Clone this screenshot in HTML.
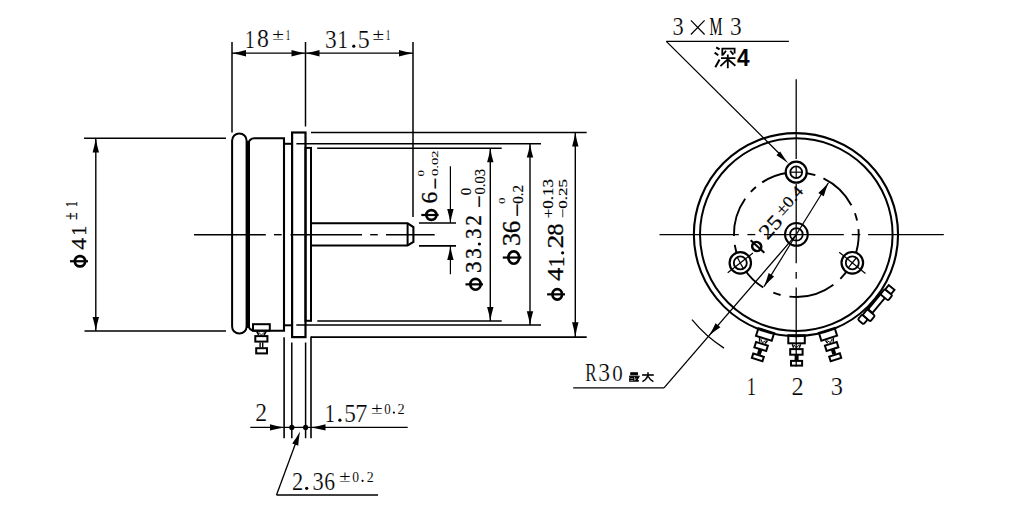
<!DOCTYPE html>
<html><head><meta charset="utf-8"><style>
html,body{margin:0;padding:0;background:#fff;overflow:hidden}
svg{display:block}
</style></head><body>
<svg width="1021" height="515" viewBox="0 0 1021 515">
<rect width="1021" height="515" fill="#fff"/>
<g stroke="#000" fill="none" stroke-linecap="butt">
<line x1="232" y1="42" x2="232" y2="132.5" stroke-width="1.5"/>
<line x1="305.5" y1="42" x2="305.5" y2="126.5" stroke-width="1.5"/>
<line x1="413" y1="42" x2="413" y2="217" stroke-width="1.5"/>
<line x1="232" y1="53.2" x2="413" y2="53.2" stroke-width="1.3"/>
<path d="M232 53.2 Q239.7 54.54 246 56.4 L246 53.2 L246 50 Q239.7 51.86 232 53.2Z" fill="#000" stroke="none"/>
<path d="M305.5 53.2 Q297.8 51.86 291.5 50 L291.5 53.2 L291.5 56.4 Q297.8 54.54 305.5 53.2Z" fill="#000" stroke="none"/>
<path d="M305.5 53.2 Q313.2 54.54 319.5 56.4 L319.5 53.2 L319.5 50 Q313.2 51.86 305.5 53.2Z" fill="#000" stroke="none"/>
<path d="M413 53.2 Q405.3 51.86 399 50 L399 53.2 L399 56.4 Q405.3 54.54 413 53.2Z" fill="#000" stroke="none"/>
<line x1="84" y1="138.3" x2="226" y2="138.3" stroke-width="1.5"/>
<line x1="84.5" y1="331" x2="226" y2="331" stroke-width="1.5"/>
<line x1="95.8" y1="138.3" x2="95.8" y2="331" stroke-width="1.4"/>
<path d="M95.8 138.3 Q94.46 146.11 92.6 152.5 L95.8 152.5 L99 152.5 Q97.14 146.11 95.8 138.3Z" fill="#000" stroke="none"/>
<path d="M95.8 331 Q97.14 323.3 99 317 L95.8 317 L92.6 317 Q94.46 323.3 95.8 331Z" fill="#000" stroke="none"/>
<rect x="232.1" y="133.4" width="14.5" height="200.2" rx="7.2" stroke-width="2.0" fill="none"/>
<path d="M284 138.2 H254.3 A6 6 0 0 0 248.3 144.2 V324.7 A6 6 0 0 0 254.3 330.7 H284 Z" stroke-width="2.1" fill="none" />
<line x1="248.3" y1="141" x2="248.3" y2="328" stroke-width="3.4"/>
<line x1="284" y1="143.8" x2="292" y2="143.8" stroke-width="2.0"/>
<line x1="284" y1="325.3" x2="292" y2="325.3" stroke-width="2.0"/>
<rect x="292.1" y="132.5" width="13.4" height="204.6" rx="0" stroke-width="2.2" fill="none"/>
<rect x="305.5" y="147.9" width="5.5" height="172.9" rx="0" stroke-width="2.0" fill="none"/>
<line x1="311" y1="132.5" x2="586.7" y2="132.5" stroke-width="1.5"/>
<line x1="296.4" y1="143.8" x2="541" y2="143.8" stroke-width="1.6"/>
<line x1="317.2" y1="148.3" x2="501.7" y2="148.3" stroke-width="1.5"/>
<line x1="317.3" y1="321" x2="501.7" y2="321" stroke-width="1.6"/>
<line x1="296.3" y1="325" x2="541" y2="325" stroke-width="1.5"/>
<line x1="311" y1="337.1" x2="586.7" y2="337.1" stroke-width="1.6"/>
<line x1="284.1" y1="337.2" x2="284.1" y2="438.2" stroke-width="1.6"/>
<line x1="291.8" y1="342.5" x2="291.8" y2="438.2" stroke-width="1.5"/>
<line x1="305.6" y1="342.5" x2="305.6" y2="438.2" stroke-width="1.5"/>
<line x1="311" y1="336.4" x2="311" y2="438.2" stroke-width="1.6"/>
<line x1="250.3" y1="427.4" x2="407.7" y2="427.4" stroke-width="1.2"/>
<path d="M284 427.4 Q276.3 426.06 270 424.2 L270 427.4 L270 430.6 Q276.3 428.74 284 427.4Z" fill="#000" stroke="none"/>
<path d="M311 427.4 Q318.98 428.74 325.5 430.6 L325.5 427.4 L325.5 424.2 Q318.98 426.06 311 427.4Z" fill="#000" stroke="none"/>
<circle cx="291.8" cy="427.4" r="2.6" stroke-width="0" fill="#000"/>
<circle cx="305.6" cy="427.4" r="2.6" stroke-width="0" fill="#000"/>
<line x1="276.5" y1="495" x2="297" y2="439.5" stroke-width="1.3"/>
<path d="M300 431.4 Q296.1 438.2 292.19 443.51 L295.2 444.6 L298.21 445.69 Q298.62 439.12 300 431.4Z" fill="#000" stroke="none"/>
<line x1="276.5" y1="495" x2="378" y2="495" stroke-width="1.3"/>
<line x1="194" y1="234.7" x2="265.8" y2="234.7" stroke-width="1.4"/>
<line x1="274" y1="234.7" x2="281.7" y2="234.7" stroke-width="1.4"/>
<line x1="290.5" y1="234.7" x2="362" y2="234.7" stroke-width="1.4"/>
<line x1="370.2" y1="234.7" x2="377.8" y2="234.7" stroke-width="1.4"/>
<line x1="386" y1="234.7" x2="434.7" y2="234.7" stroke-width="1.4"/>
<path d="M311 223.3 H407.6 L413.4 227 V242 L407.6 245.5 H311" stroke-width="2.1" fill="none" />
<line x1="407.6" y1="223.3" x2="407.6" y2="245.5" stroke-width="2.0"/>
<line x1="419" y1="223.1" x2="456" y2="223.1" stroke-width="1.5"/>
<line x1="419" y1="245.9" x2="456" y2="245.9" stroke-width="1.6"/>
<line x1="450.4" y1="166.2" x2="450.4" y2="223.1" stroke-width="1.2"/>
<path d="M450.4 223.1 Q451.74 215.34 453.6 209 L450.4 209 L447.2 209 Q449.06 215.34 450.4 223.1Z" fill="#000" stroke="none"/>
<line x1="450.4" y1="245.9" x2="450.4" y2="274.3" stroke-width="1.2"/>
<path d="M450.4 245.9 Q449.06 253.66 447.2 260 L450.4 260 L453.6 260 Q451.74 253.66 450.4 245.9Z" fill="#000" stroke="none"/>
<line x1="490.3" y1="148.4" x2="490.3" y2="320.9" stroke-width="1.4"/>
<path d="M490.3 148.4 Q488.96 156.05 487.1 162.3 L490.3 162.3 L493.5 162.3 Q491.64 156.05 490.3 148.4Z" fill="#000" stroke="none"/>
<path d="M490.3 320.9 Q491.64 313.25 493.5 307 L490.3 307 L487.1 307 Q488.96 313.25 490.3 320.9Z" fill="#000" stroke="none"/>
<line x1="530" y1="143.9" x2="530" y2="325" stroke-width="1.4"/>
<path d="M530 143.9 Q528.66 151.44 526.8 157.6 L530 157.6 L533.2 157.6 Q531.34 151.44 530 143.9Z" fill="#000" stroke="none"/>
<path d="M530 325 Q531.34 317.41 533.2 311.2 L530 311.2 L526.8 311.2 Q528.66 317.41 530 325Z" fill="#000" stroke="none"/>
<line x1="575.3" y1="132.5" x2="575.3" y2="337" stroke-width="1.4"/>
<path d="M575.3 132.5 Q573.96 140.15 572.1 146.4 L575.3 146.4 L578.5 146.4 Q576.64 140.15 575.3 132.5Z" fill="#000" stroke="none"/>
<path d="M575.3 337 Q576.64 328.92 578.5 322.3 L575.3 322.3 L572.1 322.3 Q573.96 328.92 575.3 337Z" fill="#000" stroke="none"/>
<rect x="253" y="324.2" width="16.8" height="6.5" rx="0" stroke-width="2.0" fill="none"/>
<path d="M256.8 331.6 L258.8 335 M266 331.6 L264 335" stroke-width="1.6" fill="none" />
<path d="M258.5 332.2 L261.5 335 M264.3 332.2 L261.5 335" stroke-width="0.9" fill="none" />
<rect x="255.3" y="336.1" width="12.1" height="5.5" rx="0" stroke-width="2.0" fill="none"/>
<line x1="260.1" y1="342.5" x2="260.1" y2="347.5" stroke-width="1.4"/>
<line x1="262.7" y1="342.5" x2="262.7" y2="347.5" stroke-width="1.4"/>
<rect x="256.2" y="348.2" width="10.8" height="5.2" rx="0" stroke-width="2.0" fill="none"/>
<ellipse cx="80" cy="261.25" rx="5.15" ry="5.2" stroke-width="2.7"/>
<line x1="70" y1="261.25" x2="88" y2="261.25" stroke-width="2.2"/>
<ellipse cx="431.4" cy="215" rx="5.05" ry="4.85" stroke-width="2.7"/>
<line x1="421.3" y1="215" x2="438.6" y2="215" stroke-width="2.2"/>
<ellipse cx="475.5" cy="284.35" rx="5.15" ry="5.4" stroke-width="2.7"/>
<line x1="465.5" y1="284.35" x2="483" y2="284.35" stroke-width="2.2"/>
<ellipse cx="513.75" cy="257.55" rx="5.4" ry="6.2" stroke-width="2.7"/>
<line x1="502.8" y1="257.55" x2="521.4" y2="257.55" stroke-width="2.2"/>
<ellipse cx="557.25" cy="294.35" rx="4.8" ry="5.2" stroke-width="2.7"/>
<line x1="547.1" y1="294.35" x2="565" y2="294.35" stroke-width="2.2"/>
<circle cx="353.8" cy="46.2" r="1.6" fill="#000" stroke="none"/>
<circle cx="339.9" cy="420.2" r="1.6" fill="#000" stroke="none"/>
<circle cx="393.9" cy="412.6" r="1.1" fill="#000" stroke="none"/>
<circle cx="306.7" cy="488.3" r="1.6" fill="#000" stroke="none"/>
<circle cx="362.6" cy="480.8" r="1.1" fill="#000" stroke="none"/>
<circle cx="479.4" cy="244" r="1.6" fill="#000" stroke="none"/>
<circle cx="562.6" cy="252.8" r="1.6" fill="#000" stroke="none"/>
<line x1="666.3" y1="41.4" x2="788.9" y2="41.4" stroke-width="1.3"/>
<line x1="666.3" y1="41.4" x2="781" y2="155.3" stroke-width="1.3"/>
<path d="M788.2 163.2 Q783.53 156.98 780.14 151.46 L778.3 153.3 L776.46 155.14 Q781.98 158.53 788.2 163.2Z" fill="#000" stroke="none"/>
<line x1="690.9" y1="20.3" x2="704.6" y2="34.5" stroke-width="1.2"/>
<line x1="704.6" y1="20.3" x2="690.9" y2="34.5" stroke-width="1.2"/>
<path d="M716.2 47.3 L719.6 49.4 M714.6 52.6 L718.3 55.2 M715.3 67.2 L719.6 59.6" stroke-width="2.0" fill="none" />
<path d="M722.3 55.8 V48.6 H734.6 V53.5 M726 50.8 L722.9 55 M730.3 50.8 L733.4 54.6" stroke-width="1.8" fill="none" />
<path d="M721 58.1 H735.4 M727.8 54.5 V68.2 M727.4 59.7 L720.4 66.2 M728.4 59.7 L735.4 65.8" stroke-width="1.8" fill="none" />
<line x1="796.2" y1="79.3" x2="796.2" y2="158.9" stroke-width="1.3"/>
<line x1="796.2" y1="184" x2="796.2" y2="263.3" stroke-width="1.3"/>
<line x1="796.2" y1="272" x2="796.2" y2="278.8" stroke-width="1.3"/>
<line x1="796.2" y1="287.6" x2="796.2" y2="366.4" stroke-width="1.3"/>
<line x1="659.5" y1="234.6" x2="738.8" y2="234.6" stroke-width="1.3"/>
<line x1="747.4" y1="234.6" x2="755.3" y2="234.6" stroke-width="1.3"/>
<line x1="763.9" y1="234.6" x2="843.8" y2="234.6" stroke-width="1.3"/>
<line x1="851.7" y1="234.6" x2="860.3" y2="234.6" stroke-width="1.3"/>
<line x1="868.1" y1="234.6" x2="943.8" y2="234.6" stroke-width="1.3"/>
<ellipse cx="795.95" cy="234.6" rx="102.1" ry="101.5" stroke-width="2.1"/>
<circle cx="796.3" cy="234.6" r="96.3" stroke-width="2.0" fill="none"/>
<path d="M858.45 229.05 A62.4 62.4 0 0 1 840.35 278.8" stroke-width="1.9" fill="none"/>
<path d="M833.42 284.76 A62.4 62.4 0 0 1 789.45 296.62" stroke-width="1.9" fill="none"/>
<path d="M780.57 294.99 A62.4 62.4 0 0 1 773.33 292.62" stroke-width="1.9" fill="none"/>
<path d="M763.23 287.52 A62.4 62.4 0 0 1 734.74 244.79" stroke-width="1.9" fill="none"/>
<path d="M733.92 236.02 A62.4 62.4 0 0 1 745.18 198.81" stroke-width="1.9" fill="none"/>
<path d="M750.81 191.88 A62.4 62.4 0 0 1 755.94 187.01" stroke-width="1.9" fill="none"/>
<path d="M762.22 182.33 A62.4 62.4 0 0 1 815.38 175.19" stroke-width="1.9" fill="none"/>
<path d="M823.46 178.42 A62.4 62.4 0 0 1 851.4 205.3" stroke-width="1.9" fill="none"/>
<path d="M854.94 213.26 A62.4 62.4 0 0 1 857.08 220.46" stroke-width="1.9" fill="none"/>
<circle cx="796.2" cy="172.2" r="10.5" stroke-width="2.2" fill="#fff"/>
<circle cx="796.2" cy="172.2" r="5.9" stroke-width="1.8" fill="none"/>
<line x1="790" y1="172.2" x2="802.5" y2="172.2" stroke-width="1.2"/>
<line x1="796.2" y1="166" x2="796.2" y2="178.4" stroke-width="1.2"/>
<circle cx="740.3" cy="262.9" r="10.7" stroke-width="2.2" fill="#fff"/>
<circle cx="740.3" cy="262.9" r="6.5" stroke-width="1.8" fill="none"/>
<line x1="727.69" y1="272.75" x2="752.91" y2="253.05" stroke-width="1.2"/>
<line x1="737.25" y1="257.16" x2="743.35" y2="268.64" stroke-width="1.2"/>
<circle cx="852.3" cy="262.8" r="10.8" stroke-width="2.2" fill="#fff"/>
<circle cx="852.3" cy="262.8" r="6.5" stroke-width="1.8" fill="none"/>
<line x1="839.17" y1="252.16" x2="865.43" y2="273.44" stroke-width="1.2"/>
<line x1="856.39" y1="257.75" x2="848.21" y2="267.85" stroke-width="1.2"/>
<circle cx="796.4" cy="234.4" r="11.4" stroke-width="2.0" fill="none"/>
<circle cx="796.4" cy="234.4" r="6.3" stroke-width="1.8" fill="none"/>
<line x1="763.99" y1="286.67" x2="828.44" y2="182.73" stroke-width="1.2"/>
<path d="M828.44 182.73 Q823.24 188.56 818.34 192.94 L821.06 194.63 L823.78 196.31 Q825.52 189.98 828.44 182.73Z" fill="#000" stroke="none"/>
<path d="M763.99 286.67 Q769.19 280.83 774.09 276.46 L771.37 274.77 L768.65 273.08 Q766.91 279.42 763.99 286.67Z" fill="#000" stroke="none"/>
<line x1="796.4" y1="234.4" x2="664" y2="387.8" stroke-width="1.3"/>
<line x1="573.2" y1="387.8" x2="664" y2="387.8" stroke-width="1.3"/>
<path d="M708.84 335.84 Q714.89 330.89 720.41 327.33 L717.99 325.24 L715.57 323.15 Q712.86 329.13 708.84 335.84Z" fill="#000" stroke="none"/>
<path d="M723.98 348.12 A134.6 134.6 0 0 1 691.99 319.67" stroke-width="1.3" fill="none"/>
<path d="M630.8 372.8 H637.4 V374.8 H630.8 Z" stroke-width="1.1" fill="#000" />
<line x1="629" y1="376.3" x2="639.7" y2="376.3" stroke-width="1.2"/>
<path d="M629.8 377.6 V381.2 H638.6 M629.8 377.6 H633.8 V381.2 M629.8 379.4 H633.8 M635 377.6 H638.4 Q637.5 380 635.2 381.2 M635.5 378.5 Q637 380.5 638.8 381.2" stroke-width="1.3" fill="none" />
<line x1="642.1" y1="375" x2="653.8" y2="375" stroke-width="1.6"/>
<path d="M648 372.2 V375.5 Q646.5 379.5 642.4 381.6 M648.3 376.5 Q650 380 653.4 381.6" stroke-width="1.5" fill="none" />
<g><rect x="788.3" y="335.2" width="16.5" height="8.1" stroke-width="2"/>
<path d="M792.3 344.2 L793.6 347.8 M800.6 344.2 L799.3 347.8" stroke-width="1.5"/>
<path d="M794 345 L796.4 348 L798.8 345" stroke-width="0.9"/>
<rect x="790.2" y="349.1" width="12.4" height="5.6" stroke-width="2"/>
<rect x="794.6" y="355" width="4" height="5" fill="#000" stroke="none"/>
<rect x="791" y="360.9" width="11.1" height="4.7" stroke-width="2"/></g>
<g transform="rotate(17.5 796.3 234.6)"><rect x="788.3" y="335.2" width="16.5" height="8.1" stroke-width="2"/>
<path d="M792.3 344.2 L793.6 347.8 M800.6 344.2 L799.3 347.8" stroke-width="1.5"/>
<path d="M794 345 L796.4 348 L798.8 345" stroke-width="0.9"/>
<rect x="790.2" y="349.1" width="12.4" height="5.6" stroke-width="2"/>
<rect x="794.6" y="355" width="4" height="5" fill="#000" stroke="none"/>
<rect x="791" y="360.9" width="11.1" height="4.7" stroke-width="2"/></g>
<g transform="rotate(-17.5 796.3 234.6)"><rect x="788.3" y="335.2" width="16.5" height="8.1" stroke-width="2"/>
<path d="M792.3 344.2 L793.6 347.8 M800.6 344.2 L799.3 347.8" stroke-width="1.5"/>
<path d="M794 345 L796.4 348 L798.8 345" stroke-width="0.9"/>
<rect x="790.2" y="349.1" width="12.4" height="5.6" stroke-width="2"/>
<rect x="794.6" y="355" width="4" height="5" fill="#000" stroke="none"/>
<rect x="791" y="360.9" width="11.1" height="4.7" stroke-width="2"/></g>
<g transform="rotate(-50.5 796.3 234.6)"><rect x="784.3" y="337.0" width="20" height="6.2" stroke-width="1.9" fill="#fff"/><line x1="784.3" y1="336.9" x2="804.3" y2="336.9" stroke-width="3"/><rect x="776.3" y="336.9" width="7.5" height="10" rx="1.5" stroke-width="1.9" fill="#fff"/><rect x="769.8" y="336.1" width="6.5" height="7.5" rx="1.5" stroke-width="1.9" fill="#fff"/><rect x="803.8" y="337.4" width="6.8" height="10" rx="1.5" stroke-width="1.9" fill="#fff"/><rect x="810.5999999999999" y="338.1" width="5.5" height="7.5" stroke-width="1.9" fill="#fff"/></g>
<g transform="translate(757.5 246.5) rotate(-48)"><ellipse cx="-0.5" cy="-0.6" rx="4.4" ry="4.7" stroke-width="2.5"/><line x1="0" y1="-9.2" x2="0" y2="9.2" stroke-width="2.1"/></g>
<text transform="matrix(0.1943 0 0 0.2576 244.95 47.90)" font-family="Liberation Serif" font-weight="normal" font-size="100" stroke="#fff" stroke-width="0.89" fill="#000">1</text>
<text transform="matrix(0.2381 0 0 0.2500 257.05 47.40)" font-family="Liberation Serif" font-weight="normal" font-size="100" stroke="#fff" stroke-width="0.82" fill="#000">8</text>
<text transform="matrix(0.2128 0 0 0.1754 272.25 39.80)" font-family="Liberation Serif" font-weight="normal" font-size="100" stroke="#fff" stroke-width="0.38" fill="#000">±</text>
<text transform="matrix(0.0914 0 0 0.1515 285.78 39.80)" font-family="Liberation Serif" font-weight="normal" font-size="100" stroke="#fff" stroke-width="0.60" fill="#000">1</text>
<text transform="matrix(0.2341 0 0 0.2522 325.03 47.55)" font-family="Liberation Serif" font-weight="normal" font-size="100" stroke="#fff" stroke-width="0.82" fill="#000">3</text>
<text transform="matrix(0.2086 0 0 0.2561 337.62 47.80)" font-family="Liberation Serif" font-weight="normal" font-size="100" stroke="#fff" stroke-width="0.86" fill="#000">1</text>
<text transform="matrix(0.2400 0 0 0.2561 357.86 47.54)" font-family="Liberation Serif" font-weight="normal" font-size="100" stroke="#fff" stroke-width="0.81" fill="#000">5</text>
<text transform="matrix(0.2106 0 0 0.1684 372.46 39.70)" font-family="Liberation Serif" font-weight="normal" font-size="100" stroke="#fff" stroke-width="0.36" fill="#000">±</text>
<text transform="matrix(0.0943 0 0 0.1455 385.65 39.70)" font-family="Liberation Serif" font-weight="normal" font-size="100" stroke="#fff" stroke-width="0.56" fill="#000">1</text>
<text transform="matrix(0.2366 0 0 0.2463 255.25 421.45)" font-family="Liberation Serif" font-weight="normal" font-size="100" stroke="#fff" stroke-width="0.83" fill="#000">2</text>
<text transform="matrix(0.2057 0 0 0.2545 324.75 421.90)" font-family="Liberation Serif" font-weight="normal" font-size="100" stroke="#fff" stroke-width="0.87" fill="#000">1</text>
<text transform="matrix(0.2325 0 0 0.2545 344.21 421.65)" font-family="Liberation Serif" font-weight="normal" font-size="100" stroke="#fff" stroke-width="0.82" fill="#000">5</text>
<text transform="matrix(0.2425 0 0 0.2545 355.30 421.65)" font-family="Liberation Serif" font-weight="normal" font-size="100" stroke="#fff" stroke-width="0.80" fill="#000">7</text>
<text transform="matrix(0.2064 0 0 0.1702 371.27 413.90)" font-family="Liberation Serif" font-weight="normal" font-size="100" stroke="#fff" stroke-width="0.37" fill="#000">±</text>
<text transform="matrix(0.1286 0 0 0.1426 384.29 413.61)" font-family="Liberation Serif" font-weight="normal" font-size="100" stroke="#fff" stroke-width="0.51" fill="#000">0</text>
<text transform="matrix(0.1439 0 0 0.1448 397.62 413.76)" font-family="Liberation Serif" font-weight="normal" font-size="100" stroke="#fff" stroke-width="0.48" fill="#000">2</text>
<text transform="matrix(0.2244 0 0 0.2552 292.00 489.74)" font-family="Liberation Serif" font-weight="normal" font-size="100" stroke="#fff" stroke-width="0.83" fill="#000">2</text>
<text transform="matrix(0.2244 0 0 0.2552 312.48 489.74)" font-family="Liberation Serif" font-weight="normal" font-size="100" stroke="#fff" stroke-width="0.83" fill="#000">3</text>
<text transform="matrix(0.2163 0 0 0.2515 324.13 489.50)" font-family="Liberation Serif" font-weight="normal" font-size="100" stroke="#fff" stroke-width="0.86" fill="#000">6</text>
<text transform="matrix(0.2064 0 0 0.1702 339.17 482.10)" font-family="Liberation Serif" font-weight="normal" font-size="100" stroke="#fff" stroke-width="0.37" fill="#000">±</text>
<text transform="matrix(0.1357 0 0 0.1426 352.26 481.81)" font-family="Liberation Serif" font-weight="normal" font-size="100" stroke="#fff" stroke-width="0.50" fill="#000">0</text>
<text transform="matrix(0.1390 0 0 0.1448 366.84 481.96)" font-family="Liberation Serif" font-weight="normal" font-size="100" stroke="#fff" stroke-width="0.49" fill="#000">2</text>
<g transform="rotate(-90)"><text transform="matrix(0.2370 0 0 0.2121 -249.87 85.89)" font-family="Liberation Serif" font-weight="normal" font-size="100" stroke="#000" stroke-width="1.13" fill="#000">4</text></g>
<g transform="rotate(-90)"><text transform="matrix(0.2000 0 0 0.2121 -235.70 86.10)" font-family="Liberation Serif" font-weight="normal" font-size="100" stroke="#000" stroke-width="1.24" fill="#000">1</text></g>
<g transform="rotate(-90)"><text transform="matrix(0.1319 0 0 0.1912 -219.63 76.80)" font-family="Liberation Serif" font-weight="normal" font-size="100" stroke="#000" stroke-width="1.23" fill="#000">±</text></g>
<g transform="rotate(-90)"><text transform="matrix(0.1114 0 0 0.1652 -206.90 76.80)" font-family="Liberation Serif" font-weight="normal" font-size="100" stroke="#000" stroke-width="1.43" fill="#000">1</text></g>
<g transform="rotate(-90)"><text transform="matrix(0.2349 0 0 0.2294 -203.44 437.24)" font-family="Liberation Serif" font-weight="normal" font-size="100" stroke="#000" stroke-width="1.22" fill="#000">6</text></g>
<g transform="rotate(-90)"><text transform="matrix(0.2149 0 0 0.3000 -189.57 445.40)" font-family="Liberation Serif" font-weight="normal" font-size="100" stroke="#000" stroke-width="0.11" fill="#000">−</text></g>
<g transform="rotate(-90)"><text transform="matrix(0.1452 0 0 0.0912 -175.88 438.22)" font-family="Liberation Serif" font-weight="normal" font-size="100" stroke="#000" stroke-width="0.95" fill="#000">0.02</text></g>
<g transform="rotate(-90)"><text transform="matrix(0.1310 0 0 0.0853 -176.52 423.63)" font-family="Liberation Serif" font-weight="normal" font-size="100" stroke="#000" stroke-width="0.98" fill="#000">0</text></g>
<g transform="rotate(-90)"><text transform="matrix(0.2341 0 0 0.2343 -273.07 480.97)" font-family="Liberation Serif" font-weight="normal" font-size="100" stroke="#000" stroke-width="1.22" fill="#000">3</text></g>
<g transform="rotate(-90)"><text transform="matrix(0.2146 0 0 0.2343 -259.07 480.97)" font-family="Liberation Serif" font-weight="normal" font-size="100" stroke="#000" stroke-width="1.27" fill="#000">3</text></g>
<g transform="rotate(-90)"><text transform="matrix(0.2122 0 0 0.2343 -238.96 480.97)" font-family="Liberation Serif" font-weight="normal" font-size="100" stroke="#000" stroke-width="1.28" fill="#000">3</text></g>
<g transform="rotate(-90)"><text transform="matrix(0.2122 0 0 0.2343 -225.65 480.97)" font-family="Liberation Serif" font-weight="normal" font-size="100" stroke="#000" stroke-width="1.28" fill="#000">2</text></g>
<g transform="rotate(-90)"><text transform="matrix(0.2319 0 0 0.3000 -208.06 489.30)" font-family="Liberation Serif" font-weight="normal" font-size="100" stroke="#000" stroke-width="0.10" fill="#000">−</text></g>
<g transform="rotate(-90)"><text transform="matrix(0.1467 0 0 0.1397 -194.59 484.62)" font-family="Liberation Serif" font-weight="normal" font-size="100" stroke="#000" stroke-width="1.21" fill="#000">0.03</text></g>
<g transform="rotate(-90)"><text transform="matrix(0.1476 0 0 0.1397 -195.29 471.02)" font-family="Liberation Serif" font-weight="normal" font-size="100" stroke="#000" stroke-width="1.20" fill="#000">0</text></g>
<g transform="rotate(-90)"><text transform="matrix(0.2610 0 0 0.2463 -246.10 519.95)" font-family="Liberation Serif" font-weight="normal" font-size="100" stroke="#000" stroke-width="1.18" fill="#000">3</text></g>
<g transform="rotate(-90)"><text transform="matrix(0.2488 0 0 0.2426 -233.20 519.71)" font-family="Liberation Serif" font-weight="normal" font-size="100" stroke="#000" stroke-width="1.22" fill="#000">6</text></g>
<g transform="rotate(-90)"><text transform="matrix(0.2489 0 0 0.3000 -216.94 527.30)" font-family="Liberation Serif" font-weight="normal" font-size="100" stroke="#000" stroke-width="0.10" fill="#000">−</text></g>
<g transform="rotate(-90)"><text transform="matrix(0.1500 0 0 0.1426 -203.70 522.81)" font-family="Liberation Serif" font-weight="normal" font-size="100" stroke="#000" stroke-width="1.21" fill="#000">0.2</text></g>
<g transform="rotate(-90)"><text transform="matrix(0.1310 0 0 0.0809 -204.02 505.34)" font-family="Liberation Serif" font-weight="normal" font-size="100" stroke="#000" stroke-width="0.94" fill="#000">0</text></g>
<g transform="rotate(-90)"><text transform="matrix(0.2674 0 0 0.2364 -280.93 563.26)" font-family="Liberation Serif" font-weight="normal" font-size="100" stroke="#000" stroke-width="1.13" fill="#000">4</text></g>
<g transform="rotate(-90)"><text transform="matrix(0.2143 0 0 0.2364 -267.33 563.50)" font-family="Liberation Serif" font-weight="normal" font-size="100" stroke="#000" stroke-width="1.26" fill="#000">1</text></g>
<g transform="rotate(-90)"><text transform="matrix(0.2780 0 0 0.2328 -248.61 563.27)" font-family="Liberation Serif" font-weight="normal" font-size="100" stroke="#000" stroke-width="1.11" fill="#000">2</text></g>
<g transform="rotate(-90)"><text transform="matrix(0.2452 0 0 0.2294 -235.78 563.04)" font-family="Liberation Serif" font-weight="normal" font-size="100" stroke="#000" stroke-width="1.20" fill="#000">8</text></g>
<g transform="rotate(-90)"><text transform="matrix(0.1700 0 0 0.1500 -218.25 552.90)" font-family="Liberation Serif" font-weight="normal" font-size="100" stroke="#000" stroke-width="1.16" fill="#000">+0.13</text></g>
<g transform="rotate(-90)"><text transform="matrix(0.1700 0 0 0.1279 -218.25 566.74)" font-family="Liberation Serif" font-weight="normal" font-size="100" stroke="#000" stroke-width="1.06" fill="#000">−0.25</text></g>
<text transform="matrix(0.2244 0 0 0.2478 672.58 35.45)" font-family="Liberation Serif" font-weight="normal" font-size="100" stroke="#fff" stroke-width="0.85" fill="#000">3</text>
<text transform="matrix(0.1446 0 0 0.2515 709.57 35.45)" font-family="Liberation Serif" font-weight="500" font-size="100" stroke="none" stroke-width="1.01" fill="#000">M</text>
<text transform="matrix(0.2341 0 0 0.2478 730.03 35.45)" font-family="Liberation Serif" font-weight="normal" font-size="100" stroke="#fff" stroke-width="0.83" fill="#000">3</text>
<text transform="matrix(0.2259 0 0 0.2464 737.07 65.80)" font-family="Liberation Sans" font-weight="bold" font-size="100" stroke="none" stroke-width="0.85" fill="#000">4</text>
<text transform="matrix(0.1719 0 0 0.2470 585.18 381.35)" font-family="Liberation Serif" font-weight="normal" font-size="100" stroke="#fff" stroke-width="0.93" fill="#000">R</text>
<text transform="matrix(0.2366 0 0 0.2433 598.22 381.36)" font-family="Liberation Serif" font-weight="normal" font-size="100" stroke="#fff" stroke-width="0.81" fill="#000">3</text>
<text transform="matrix(0.2095 0 0 0.2397 612.26 381.12)" font-family="Liberation Serif" font-weight="normal" font-size="100" stroke="#fff" stroke-width="0.87" fill="#000">0</text>
<text transform="matrix(0.1857 0 0 0.2591 746.83 395.00)" font-family="Liberation Serif" font-weight="normal" font-size="100" stroke="#fff" stroke-width="0.90" fill="#000">1</text>
<text transform="matrix(0.2439 0 0 0.2552 791.62 394.74)" font-family="Liberation Serif" font-weight="normal" font-size="100" stroke="#fff" stroke-width="0.80" fill="#000">2</text>
<text transform="matrix(0.2439 0 0 0.2552 830.78 394.74)" font-family="Liberation Serif" font-weight="normal" font-size="100" stroke="#fff" stroke-width="0.80" fill="#000">3</text>
<g transform="translate(757.5 246.5) rotate(-48)"><text transform="matrix(0.2446 0 0 0.2060 11.02 3.39)" font-family="Liberation Serif" font-weight="normal" font-size="100" stroke="#000" stroke-width="1.11" fill="#000">25</text></g>
<g transform="translate(757.5 246.5) rotate(-48)"><text transform="matrix(0.1816 0 0 0.1574 39.17 -1.91)" font-family="Liberation Serif" font-weight="normal" font-size="100" stroke="#000" stroke-width="1.15" fill="#000">±0.4</text></g>
</g>
</svg>
</body></html>
